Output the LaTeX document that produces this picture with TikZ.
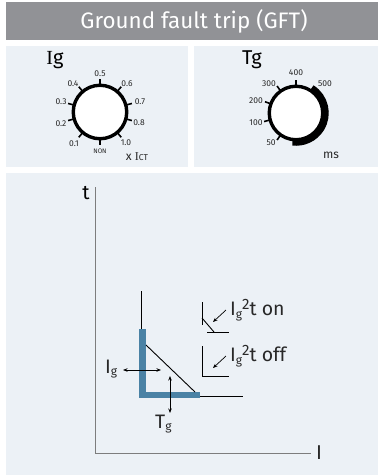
\documentclass[tikz,border=0pt]{standalone}
\usepackage{fontspec}
\setmainfont{Fira Sans}
\newfontfamily\slabfont{Liberation Serif}
\usetikzlibrary{arrows.meta,calc}
\definecolor{HeadGray}{RGB}{145,146,150}
\definecolor{PanelBlue}{RGB}{236,241,246}
\definecolor{CurveBlue}{RGB}{74,130,165}
\definecolor{AxisGray}{RGB}{125,125,125}
\definecolor{DarkText}{RGB}{40,40,40}
\tikzset{
  panel/.style={fill=PanelBlue,draw=none},
  dial/.style={circle,draw=black,fill=white,line width=3.4pt,minimum size=53.5pt,inner sep=0pt},
  tick/.style={line width=1.6pt,black},
  scalelab/.style={font=\fontsize{8.5}{9}\selectfont,text=DarkText,inner sep=0pt},
  biglab/.style={font=\fontsize{20}{22}\selectfont,text=black,inner sep=0pt},
  curvelab/.style={font=\fontsize{19.5}{22}\selectfont,text=DarkText,inner sep=0pt,anchor=west},
  arr/.style={{Stealth[length=4.5pt,width=3.5pt]}-{Stealth[length=4.5pt,width=3.5pt]},line width=0.7pt},
  arrs/.style={-{Stealth[length=4.5pt,width=3.5pt]},line width=0.7pt},
  axisline/.style={AxisGray,line width=1pt},
  thinline/.style={black,line width=0.9pt},
  bluecurve/.style={CurveBlue,line width=6.5pt,line join=miter},
}
\newcommand{\subg}{{\fontsize{12}{13}\selectfont\raisebox{-2.5pt}{g}}}
\begin{document}
\begin{tikzpicture}[x=1pt,y=-1pt]
    \useasboundingbox (0,0) rectangle (378,475);
    % Panels
    \fill[HeadGray] (6,2) rectangle (378,40);
    \fill[panel] (6,46) rectangle (188,167);
    \fill[panel] (194,46) rectangle (378,167);
    \fill[panel] (6,173) rectangle (378,475);
    \node[font=\fontsize{22.4}{24}\selectfont,text=white,inner sep=0pt] (title) at (194,21) {Ground fault trip (GFT)};

    % Ig dial
    \foreach \ang in {90,50,15,-15,-50,-90,-130,-165,165,130}
      \draw[tick] (100,112) ++(\ang:26) -- ++(\ang:7);
    \node[dial] (igdial) at (100,112) {};
    \node[biglab] (iglab) at (55,60) {{\slabfont I}g};
    \node[scalelab] (ig05) at (100,74) {0.5};
    \node[scalelab] (ig06) at (127,84) {0.6};
    \node[scalelab] (ig07) at (140,102) {0.7};
    \node[scalelab] (ig08) at (139,123) {0.8};
    \node[scalelab] (ig10) at (126,143) {1.0};
    \node[scalelab] (ignon) at (100,151) {\fontsize{6.5}{7}\selectfont NON};
    \node[scalelab] (ig01) at (74,144) {0.1};
    \node[scalelab] (ig02) at (61,124) {0.2};
    \node[scalelab] (ig03) at (61,102) {0.3};
    \node[scalelab] (ig04) at (73,84) {0.4};
    \node[scalelab,font=\fontsize{12}{13}\selectfont] (xict) at (137,157) {x {\slabfont I}{\fontsize{8.5}{9}\selectfont CT}};

    % Tg dial
    \foreach \ang in {90,125,160,-165,-125}
      \draw[tick] (296,113) ++(-\ang:26) -- ++(-\ang:7);
    \draw[black,line width=7.5pt] (296,113) ++(-58:29) arc[start angle=-58,end angle=97,radius=29];
    \node[dial] (tgdial) at (296,113) {};
    \node[biglab] (tglab) at (252,60) {Tg};
    \node[scalelab] (tg400) at (296,73) {400};
    \node[scalelab] (tg500) at (325,84) {500};
    \node[scalelab] (tg300) at (269,84) {300};
    \node[scalelab] (tg200) at (256,101) {200};
    \node[scalelab] (tg100) at (256,123) {100};
    \node[scalelab] (tg50) at (271,143) {50};
    \node[scalelab,font=\fontsize{12}{13}\selectfont] (ms) at (331,155) {ms};

    % Axes
    \coordinate (orig) at (95.5,453);
    \coordinate (ttop) at (95.5,187);
    \coordinate (iend) at (311,453);
    \draw[axisline] (ttop) -- (orig) -- (iend);
    \node[biglab] (tlab) at (86,193) {t};
    \node[biglab,text=DarkText] (ilab) at (319,453) {I};

    % Curve
    \coordinate (ctop) at (141,291);
    \coordinate (cright) at (243,396);
    \coordinate (ltop) at (142.3,329);
    \coordinate (lcorner) at (142.3,394.8);
    \coordinate (lright) at (200,394.8);
    \draw[thinline] (ctop) -- (141,331);
    \draw[thinline] (198,396) -- (cright);
    \draw[bluecurve] (ltop) -- (lcorner) -- (lright);
    \draw[thinline] (146,345) -- (195,392);

    % Adjust arrows
    \coordinate (igl) at (123,370);
    \coordinate (igr) at (161,370);
    \coordinate (tgt) at (170,376);
    \coordinate (tgb) at (170,413);
    \draw[arr] (igl) -- (igr);
    \draw[arr] (tgt) -- (tgb);
    \node[curvelab] (iglb) at (105,369) {I\subg};
    \node[curvelab] (tglb) at (155,424) {T\subg};

    % Legend
    \coordinate (ona) at (202,302);
    \coordinate (onb) at (202,325);
    \coordinate (onc) at (202,318);
    \coordinate (ond) at (214,332);
    \coordinate (one) at (207,332);
    \coordinate (onf) at (229,332);
    \draw[thinline] (ona) -- (onb);
    \draw[thinline] (onc) -- (ond);
    \draw[thinline] (one) -- (onf);
    \coordinate (onfrom) at (226,310);
    \coordinate (onto) at (213,322);
    \draw[arrs] (onfrom) -- (onto);
    \node[curvelab] (onlab) at (230,310) {I\subg\raisebox{6pt}{\fontsize{15}{16}\selectfont 2}t on};
    \coordinate (offa) at (202,346);
    \coordinate (offb) at (202,376);
    \coordinate (offc) at (229,376);
    \draw[thinline] (offa) -- (offb) -- (offc);
    \coordinate (offfrom) at (226,356);
    \coordinate (offto) at (213,368);
    \draw[arrs] (offfrom) -- (offto);
    \node[curvelab] (offlab) at (230,356) {I\subg\raisebox{6pt}{\fontsize{15}{16}\selectfont 2}t off};
\end{tikzpicture}
\end{document}
